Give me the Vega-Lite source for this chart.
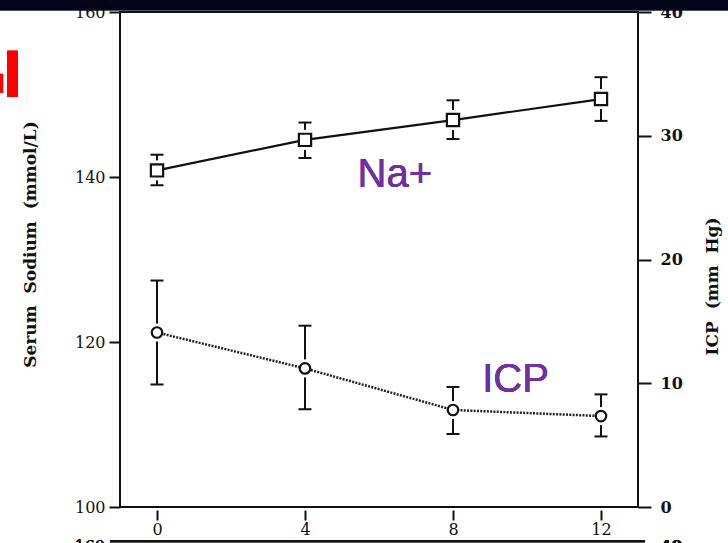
{
  "$schema": "https://vega.github.io/schema/vega-lite/v6.json",
  "width": 518,
  "height": 495,
  "autosize": {"type": "none"},
  "padding": {"left": 120, "top": 12, "right": 90, "bottom": 36},
  "background": "white",
  "config": {
    "view": {"stroke": "#111", "strokeWidth": 2},
    "axis": {
      "labelFont": "DejaVu Serif", "labelFontSize": 16, "labelColor": "#111",
      "tickColor": "#111", "tickWidth": 2, "domain": false, "grid": false,
      "titleFont": "DejaVu Serif", "titleFontWeight": "bold", "titleFontSize": 17, "titleColor": "#111"
    }
  },
  "datasets": {
    "na": [
      {"hour": 0, "mean": 140.8, "lo": 139.0, "hi": 142.7},
      {"hour": 4, "mean": 144.5, "lo": 142.3, "hi": 146.6},
      {"hour": 8, "mean": 146.9, "lo": 144.6, "hi": 149.3},
      {"hour": 12, "mean": 149.45, "lo": 146.8, "hi": 152.1}
    ],
    "icp": [
      {"hour": 0, "mean": 14.1, "lo": 9.9, "hi": 18.3},
      {"hour": 4, "mean": 11.2, "lo": 7.9, "hi": 14.65},
      {"hour": 8, "mean": 7.84, "lo": 5.9, "hi": 9.7},
      {"hour": 12, "mean": 7.35, "lo": 5.7, "hi": 9.1}
    ]
  },
  "encoding": {
    "x": {"field": "hour", "type": "quantitative", "scale": {"domain": [-1, 13], "nice": false, "zero": false},
      "axis": {"values": [0, 4, 8, 12], "offset": 3, "tickSize": 10, "labelPadding": 1, "title": null}}
  },
  "layer": [
    {
      "data": {"name": "na"},
      "layer": [
        {"mark": {"type": "rect", "color": "#020418"},
         "encoding": {"x": {"datum": -4.4, "type": "quantitative"}, "x2": {"datum": 15.6},
           "y": {"datum": 160.2, "type": "quantitative", "scale": {"domain": [100, 160], "nice": false, "zero": false}}, "y2": {"datum": 162.5}}},
        {"mark": {"type": "rect", "color": "#ff0000"},
         "encoding": {"x": {"datum": -4.05, "type": "quantitative"}, "x2": {"datum": -3.76},
           "y": {"datum": 155.3, "type": "quantitative", "scale": {"domain": [100, 160], "nice": false, "zero": false}}, "y2": {"datum": 149.7}}},
        {"mark": {"type": "rect", "color": "#ff0000"},
         "encoding": {"x": {"datum": -4.4, "type": "quantitative"}, "x2": {"datum": -4.16},
           "y": {"datum": 152.5, "type": "quantitative", "scale": {"domain": [100, 160], "nice": false, "zero": false}}, "y2": {"datum": 150.2}}},
        {"mark": {"type": "rule", "color": "#111", "strokeWidth": 2},
         "encoding": {"x": {"datum": -1.27, "type": "quantitative"}, "x2": {"datum": 13.19},
           "y": {"datum": 95.85, "type": "quantitative", "scale": {"domain": [100, 160], "nice": false, "zero": false}}}},
        {"mark": {"type": "text", "text": "160", "font": "DejaVu Serif", "fontSize": 16, "color": "#111", "align": "right", "baseline": "middle", "dx": -15},
         "encoding": {"x": {"datum": -1, "type": "quantitative"},
           "y": {"datum": 95.2, "type": "quantitative", "scale": {"domain": [100, 160], "nice": false, "zero": false}}}},
        {"mark": {"type": "text", "text": "40", "font": "DejaVu Serif", "fontSize": 16, "fontWeight": "bold", "color": "#111", "align": "left", "baseline": "middle", "dx": 22},
         "encoding": {"x": {"datum": 13, "type": "quantitative"},
           "y": {"datum": 95.2, "type": "quantitative", "scale": {"domain": [100, 160], "nice": false, "zero": false}}}},
        {"mark": {"type": "rule", "color": "#111", "strokeWidth": 2},
         "encoding": {"y": {"field": "lo", "type": "quantitative", "scale": {"domain": [100, 160], "nice": false, "zero": false}}, "y2": {"field": "hi"}}},
        {"mark": {"type": "tick", "orient": "horizontal", "color": "#111", "size": 13, "thickness": 2, "opacity": 1},
         "encoding": {"y": {"field": "lo", "type": "quantitative", "scale": {"domain": [100, 160], "nice": false, "zero": false}}}},
        {"mark": {"type": "tick", "orient": "horizontal", "color": "#111", "size": 13, "thickness": 2, "opacity": 1},
         "encoding": {"y": {"field": "hi", "type": "quantitative", "scale": {"domain": [100, 160], "nice": false, "zero": false}}}},
        {"mark": {"type": "point", "shape": "square", "filled": true, "color": "white", "size": 400, "opacity": 1},
         "encoding": {"y": {"field": "mean", "type": "quantitative", "scale": {"domain": [100, 160], "nice": false, "zero": false}}}},
        {"mark": {"type": "line", "color": "#111", "strokeWidth": 2.2},
         "encoding": {"y": {"field": "mean", "type": "quantitative", "scale": {"domain": [100, 160], "nice": false, "zero": false}}}},
        {"mark": {"type": "point", "shape": "square", "filled": true, "fill": "white", "stroke": "#111", "strokeWidth": 2.2, "size": 150, "opacity": 1},
         "encoding": {"y": {"field": "mean", "type": "quantitative", "scale": {"domain": [100, 160], "nice": false, "zero": false},
           "axis": {"orient": "left", "values": [100, 120, 140, 160], "tickSize": 11, "labelPadding": 4,
             "title": "Serum\u00a0\u00a0Sodium\u00a0\u00a0(mmol/L)", "titleAngle": 270, "titleX": -90, "titleY": 232, "titleBaseline": "middle", "titleAlign": "center"}}}},
        {"mark": {"type": "text", "text": "Na+", "font": "Liberation Sans", "fontSize": 40, "color": "#7030A0", "align": "left", "baseline": "alphabetic"},
         "encoding": {"x": {"datum": 5.42, "type": "quantitative"},
           "y": {"datum": 138.8, "type": "quantitative", "scale": {"domain": [100, 160], "nice": false, "zero": false}}}}
      ]
    },
    {
      "data": {"name": "icp"},
      "layer": [
        {"mark": {"type": "rule", "color": "#111", "strokeWidth": 2},
         "encoding": {"y": {"field": "lo", "type": "quantitative", "scale": {"domain": [0, 40], "nice": false}}, "y2": {"field": "hi"}}},
        {"mark": {"type": "tick", "orient": "horizontal", "color": "#111", "size": 13, "thickness": 2, "opacity": 1},
         "encoding": {"y": {"field": "lo", "type": "quantitative", "scale": {"domain": [0, 40], "nice": false}}}},
        {"mark": {"type": "tick", "orient": "horizontal", "color": "#111", "size": 13, "thickness": 2, "opacity": 1},
         "encoding": {"y": {"field": "hi", "type": "quantitative", "scale": {"domain": [0, 40], "nice": false}}}},
        {"mark": {"type": "point", "shape": "circle", "filled": true, "color": "white", "size": 330, "opacity": 1},
         "encoding": {"y": {"field": "mean", "type": "quantitative", "scale": {"domain": [0, 40], "nice": false}}}},
        {"mark": {"type": "line", "color": "#222", "strokeWidth": 2.5, "strokeDash": [2, 1.3]},
         "encoding": {"y": {"field": "mean", "type": "quantitative", "scale": {"domain": [0, 40], "nice": false}}}},
        {"mark": {"type": "point", "shape": "circle", "filled": true, "fill": "white", "stroke": "#111", "strokeWidth": 2.2, "size": 110, "opacity": 1},
         "encoding": {"y": {"field": "mean", "type": "quantitative", "scale": {"domain": [0, 40], "nice": false},
           "axis": {"orient": "right", "values": [0, 10, 20, 30, 40], "tickSize": 13, "labelPadding": 9, "labelFontWeight": "bold",
             "title": "ICP\u00a0\u00a0(mm\u00a0\u00a0Hg)", "titleAngle": 270, "titleX": 74, "titleY": 274, "titleBaseline": "middle", "titleAlign": "center"}}}},
        {"mark": {"type": "text", "text": "ICP", "font": "Liberation Sans", "fontSize": 40, "color": "#7030A0", "align": "left", "baseline": "alphabetic"},
         "encoding": {"x": {"datum": 8.79, "type": "quantitative"},
           "y": {"datum": 9.29, "type": "quantitative", "scale": {"domain": [0, 40], "nice": false}}}}
      ]
    }
  ],
  "resolve": {"scale": {"y": "independent"}}
}
